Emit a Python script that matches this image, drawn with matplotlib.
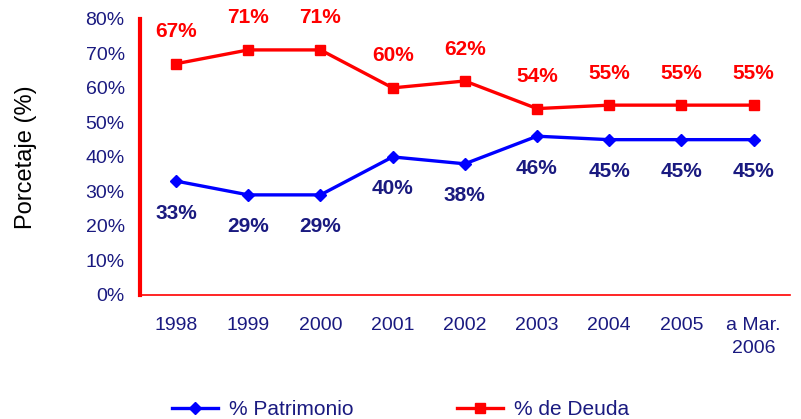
import matplotlib.pyplot as plt

plt.rcParams['font.family'] = ['Liberation Sans', 'DejaVu Sans']

years = ["1998", "1999", "2000", "2001", "2002", "2003", "2004", "2005", "a Mar.\n2006"]
patrimonio = [33, 29, 29, 40, 38, 46, 45, 45, 45]
deuda = [67, 71, 71, 60, 62, 54, 55, 55, 55]
yticks = [0, 10, 20, 30, 40, 50, 60, 70, 80]

navy = "#1a1a80"

fig = plt.figure(figsize=(8.01, 4.19), dpi=100)
ax = fig.add_axes([0.1748, 0.296, 0.811, 0.659])

x = list(range(len(years)))
lp, = ax.plot(x, patrimonio, color="#0000ff", lw=2.4, marker="D", ms=6.5, label="% Patrimonio")
ld, = ax.plot(x, deuda, color="#ff0000", lw=2.4, marker="s", ms=7, label="% de Deuda")

for i in x:
    ax.annotate(f"{deuda[i]}%", (i, deuda[i]), xytext=(0, 23), textcoords="offset points",
                ha="center", va="center", color="#ff0000", fontsize=15, fontweight="bold")
    ax.annotate(f"{patrimonio[i]}%", (i, patrimonio[i]), xytext=(0, -23), textcoords="offset points",
                ha="center", va="center", color=navy, fontsize=15, fontweight="bold")

ax.set_xlim(-0.5, len(years) - 0.5)
ax.set_ylim(0, 80)
ax.set_yticks(yticks)
ax.set_yticklabels([f"{t}%" for t in yticks])
ax.set_xticks(x)
ax.set_xticklabels(years, linespacing=1.45)
ax.tick_params(axis="both", length=0, labelsize=14, labelcolor=navy)
ax.tick_params(axis="y", pad=11)
ax.tick_params(axis="x", pad=16)

for s in ["top", "right"]:
    ax.spines[s].set_visible(False)
ax.spines["left"].set_color("#ff0000")
ax.spines["left"].set_linewidth(3)
ax.spines["bottom"].set_color("#ff0000")
ax.spines["bottom"].set_linewidth(1.2)

ax.set_ylabel("Porcetaje (%)", fontsize=17, color="black")
ax.yaxis.set_label_coords(-0.158, 0.5)

leg = fig.legend(handles=[lp, ld], loc="lower center", bbox_to_anchor=(0.5, -0.045), ncol=2,
                 frameon=False, fontsize=15, columnspacing=5, handlelength=2.2, handletextpad=0.5)
for t in leg.get_texts():
    t.set_color(navy)

fig.savefig("out.png", dpi=100)
